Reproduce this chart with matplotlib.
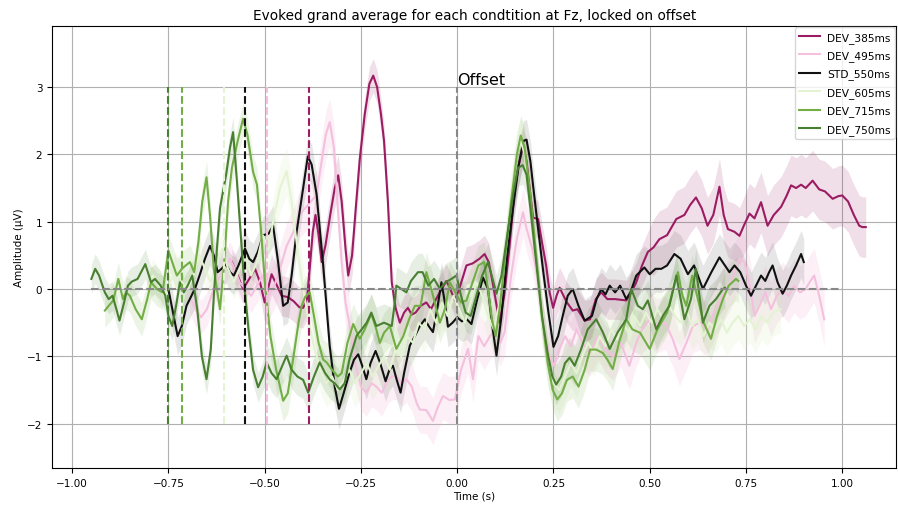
import numpy as np
import matplotlib.pyplot as plt

# =====================================================
#                 DATA
# =====================================================
conds = ["DEV_385ms", "DEV_495ms", "STD_550ms", "DEV_605ms", "DEV_715ms", "DEV_750ms"]
onsets = [-0.385, -0.495, -0.55, -0.605, -0.715, -0.75]   # stimulus onset relative to offset
colors = ["#9b1c62", "#f3c1dd", "#111111", "#e4f3d2", "#72ad45", "#487f30"]

t_385 = [-0.585, -0.57, -0.556, -0.54, -0.525, -0.512, -0.5, -0.482, -0.468, -0.456, -0.44, -0.425,
         -0.41, -0.4, -0.39, -0.383, -0.375, -0.368, -0.36, -0.352, -0.342, -0.33, -0.318, -0.309,
         -0.3, -0.29, -0.283, -0.273, -0.262, -0.253, -0.24, -0.228, -0.218, -0.208, -0.198, -0.19,
         -0.18, -0.17, -0.16, -0.149, -0.138, -0.128, -0.118, -0.108, -0.095, -0.08, -0.068, -0.055,
         -0.04, -0.028, -0.018, -0.006, 0.008, 0.024, 0.04, 0.058, 0.071, 0.082, 0.095, 0.11, 0.122,
         0.136, 0.148, 0.158, 0.171, 0.18, 0.19, 0.197, 0.21, 0.22, 0.231, 0.24, 0.249, 0.258, 0.266,
         0.276, 0.285, 0.3, 0.312, 0.331, 0.345, 0.36, 0.374, 0.39, 0.41, 0.439, 0.452, 0.465, 0.48,
         0.495, 0.51, 0.525, 0.545, 0.569, 0.59, 0.605, 0.62, 0.635, 0.65, 0.665, 0.681, 0.692, 0.703,
         0.72, 0.733, 0.745, 0.759, 0.772, 0.789, 0.806, 0.822, 0.841, 0.855, 0.867, 0.88, 0.893,
         0.905, 0.923, 0.94, 0.955, 0.975, 0.99, 1.0, 1.015, 1.03, 1.044, 1.052, 1.061]
v_385 = [0.40, 0.20, 0.0, 0.15, 0.30, 0.10, -0.20, 0.22, 0.05, -0.10, -0.12, -0.18,
         -0.27, -0.28, -0.15, 0.30, 0.85, 1.10, 0.80, 0.40, 0.65, 1.09, 1.50, 1.69,
         1.30, 0.60, 0.20, 0.50, 1.30, 1.93, 2.60, 3.05, 3.17, 3.00, 2.60, 2.20,
         1.30, 0.10, -0.28, -0.50, -0.35, -0.28, -0.38, -0.35, -0.25, -0.20, -0.30, -0.15,
         0.00, 0.12, 0.00, -0.17, 0.05, 0.35, 0.38, 0.45, 0.52, 0.40, 0.00, -0.50, -0.10,
         0.64, 1.40, 1.79, 2.13, 1.90, 1.40, 1.06, 1.04, 0.70, 0.35, -0.05, -0.28, -0.10, 0.02,
         -0.10, -0.20, -0.32, -0.30, -0.47, -0.45, -0.15, -0.05, -0.15, -0.15, -0.17, -0.05, 0.10, 0.35,
         0.55, 0.62, 0.74, 0.80, 1.04, 1.10, 1.25, 1.36, 1.20, 0.94, 1.10, 1.52, 1.10, 0.89,
         0.85, 0.79, 0.95, 1.12, 1.05, 1.29, 0.94, 1.10, 1.22, 1.38, 1.54, 1.50, 1.55,
         1.50, 1.61, 1.48, 1.45, 1.34, 1.38, 1.39, 1.30, 1.10, 0.94, 0.92, 0.92]

t_495 = [-0.695, -0.68, -0.665, -0.65, -0.635, -0.62, -0.605, -0.59, -0.578, -0.565, -0.55, -0.535,
         -0.52, -0.505, -0.49, -0.475, -0.46, -0.443, -0.425, -0.41, -0.395, -0.38, -0.365, -0.352,
         -0.341, -0.331, -0.32, -0.31, -0.3, -0.29, -0.279, -0.265, -0.25, -0.236, -0.222, -0.21,
         -0.196, -0.18, -0.17, -0.158, -0.145, -0.132, -0.118, -0.105, -0.097, -0.08, -0.063, -0.05,
         -0.037, -0.02, -0.006, 0.01, 0.028, 0.041, 0.055, 0.07, 0.085, 0.1, 0.112, 0.123, 0.14,
         0.155, 0.171, 0.18, 0.195, 0.21, 0.225, 0.24, 0.25, 0.265, 0.28, 0.295, 0.31, 0.325, 0.345,
         0.365, 0.385, 0.405, 0.425, 0.447, 0.465, 0.48, 0.5, 0.52, 0.54, 0.56, 0.577, 0.595, 0.612,
         0.63, 0.65, 0.67, 0.69, 0.71, 0.733, 0.746, 0.76, 0.772, 0.785, 0.8, 0.815, 0.83, 0.845,
         0.86, 0.875, 0.89, 0.905, 0.915, 0.927, 0.94, 0.953]
v_495 = [-0.10, -0.30, -0.42, -0.30, -0.05, 0.15, 0.30, 0.45, 0.30, 0.10, 0.00, -0.10,
         0.05, 0.20, -0.10, 0.05, 0.30, 0.64, 0.85, 1.10, 1.20, 1.30, 1.40, 1.90,
         2.30, 2.48, 2.10, 1.20, 0.40, -0.20, -0.55, -1.10, -1.45, -1.54, -1.40, -1.45,
         -1.54, -1.35, -1.30, -1.29, -1.40, -1.34, -1.45, -1.70, -1.79, -1.80, -1.96, -1.75,
         -1.59, -1.65, -1.64, -1.20, -0.89, -1.34, -0.70, -0.85, -0.70, -0.60, -0.80, -0.64, 0.20,
         0.75, 1.14, 0.90, 0.60, 0.10, -0.60, -1.00, -1.14, -0.90, -0.70, -0.85, -0.60, -0.80, -0.95,
         -0.70, -0.90, -1.00, -0.80, -1.14, -0.80, -0.60, -0.45, -0.55, -0.50, -0.75, -1.04, -0.80, -0.55,
         -0.50, -0.60, -0.30, -0.10, 0.10, 0.45, 0.40, 0.05, -0.40, -0.25, -0.05, -0.30, -0.10, 0.00,
         -0.10, 0.05, -0.05, 0.00, 0.10, 0.20, -0.10, -0.45]

t_550 = [-0.75, -0.738, -0.726, -0.715, -0.703, -0.69, -0.68, -0.668, -0.655, -0.642, -0.632, -0.622,
         -0.612, -0.6, -0.59, -0.58, -0.568, -0.551, -0.54, -0.53, -0.518, -0.504, -0.49, -0.478,
         -0.465, -0.452, -0.44, -0.43, -0.417, -0.4, -0.388, -0.378, -0.365, -0.348, -0.331, -0.318,
         -0.307, -0.295, -0.28, -0.268, -0.257, -0.246, -0.236, -0.225, -0.212, -0.2, -0.186, -0.176,
         -0.167, -0.157, -0.147, -0.138, -0.123, -0.11, -0.097, -0.084, -0.074, -0.063, -0.052, -0.041,
         -0.032, -0.024, -0.012, 0.0, 0.012, 0.025, 0.037, 0.052, 0.067, 0.08, 0.09, 0.102, 0.115,
         0.13, 0.145, 0.16, 0.172, 0.18, 0.19, 0.197, 0.21, 0.223, 0.237, 0.25, 0.262, 0.274, 0.287,
         0.3, 0.315, 0.331, 0.35, 0.362, 0.374, 0.385, 0.396, 0.41, 0.423, 0.439, 0.45, 0.465, 0.486,
         0.5, 0.515, 0.53, 0.545, 0.564, 0.58, 0.599, 0.615, 0.638, 0.66, 0.681, 0.695, 0.707, 0.72,
         0.735, 0.75, 0.763, 0.776, 0.789, 0.8, 0.81, 0.819, 0.832, 0.845, 0.856, 0.867, 0.88, 0.893,
         0.9]
v_550 = [0.00, -0.35, -0.70, -0.55, -0.25, -0.10, 0.02, 0.22, 0.45, 0.64, 0.50, 0.25,
         0.30, 0.37, 0.25, 0.20, 0.35, 0.60, 0.45, 0.40, 0.55, 0.80, 0.82, 0.94,
         0.40, -0.25, -0.20, 0.20, 0.85, 1.50, 1.97, 1.85, 1.40, 0.35, -0.85, -1.45,
         -1.78, -1.55, -1.25, -1.05, -0.97, -1.15, -1.34, -1.10, -0.92, -1.10, -1.37, -1.20,
         -1.14, -1.35, -1.54, -1.25, -0.84, -0.70, -0.55, -0.45, -0.55, -0.64, -0.30, 0.10,
         -0.20, -0.56, -0.50, -0.42, -0.48, -0.45, -0.52, -0.15, 0.17, 0.00, -0.50, -0.99, -0.40,
         0.50, 1.20, 1.85, 2.20, 2.22, 1.90, 1.54, 0.90, 0.28, -0.35, -0.86, -0.70, -0.40, -0.10,
         0.00, -0.25, -0.47, -0.40, -0.15, 0.00, -0.08, 0.05, -0.05, 0.05, -0.15, -0.05, 0.20, 0.32,
         0.22, 0.30, 0.30, 0.35, 0.52, 0.45, 0.22, 0.35, 0.00, 0.25, 0.47, 0.35, 0.25, 0.35,
         0.25, 0.05, -0.10, 0.05, 0.20, 0.12, 0.25, 0.35, 0.10, -0.07, 0.05, 0.20, 0.35, 0.52,
         0.40]

t_605 = [-0.805, -0.79, -0.775, -0.76, -0.745, -0.73, -0.715, -0.7, -0.685, -0.67, -0.655, -0.64,
         -0.625, -0.61, -0.595, -0.58, -0.565, -0.55, -0.535, -0.52, -0.505, -0.49, -0.475, -0.46,
         -0.443, -0.43, -0.415, -0.4, -0.385, -0.37, -0.355, -0.34, -0.325, -0.31, -0.295, -0.28,
         -0.265, -0.25, -0.235, -0.22, -0.205, -0.19, -0.175, -0.16, -0.145, -0.13, -0.115, -0.1,
         -0.085, -0.07, -0.055, -0.04, -0.025, -0.01, 0.005, 0.02, 0.035, 0.05, 0.065, 0.08, 0.095,
         0.11, 0.125, 0.14, 0.155, 0.165, 0.175, 0.19, 0.205, 0.22, 0.235, 0.25, 0.265, 0.28, 0.295,
         0.31, 0.325, 0.34, 0.355, 0.37, 0.385, 0.4, 0.415, 0.43, 0.445, 0.46, 0.475, 0.49, 0.505,
         0.52, 0.535, 0.55, 0.565, 0.58, 0.595, 0.61, 0.625, 0.64, 0.655, 0.67, 0.685, 0.7, 0.715,
         0.73, 0.745, 0.76, 0.775, 0.79, 0.805, 0.82, 0.84]
v_605 = [0.00, 0.20, 0.05, -0.10, 0.10, 0.30, 0.10, 0.00, 0.20, 0.50, 0.30, 0.10,
         0.40, 0.60, 0.30, 0.10, 0.30, 0.50, 0.20, 0.40, 0.80, 0.60, 1.10, 1.50,
         1.75, 1.30, 0.60, 0.00, -0.50, -0.90, -1.20, -1.40, -1.30, -1.50, -1.35, -1.20,
         -1.40, -1.25, -1.10, -1.30, -1.15, -1.00, -1.20, -0.90, -1.00, -0.70, -0.80, -0.50,
         -0.60, -0.30, -0.50, -0.20, -0.40, -0.10, -0.30, -0.50, -0.20, 0.10, -0.10, -0.40, -0.60,
         -0.20, 0.60, 1.40, 2.00, 2.20, 2.00, 1.30, 0.40, -0.50, -1.10, -1.40, -1.50, -1.30, -1.10,
         -1.25, -1.00, -0.80, -0.95, -0.70, -0.85, -0.60, -0.75, -0.50, -0.65, -0.40, -0.55, -0.35, -0.50,
         -0.30, -0.45, -0.25, -0.40, -0.50, -0.30, -0.55, -0.45, -0.70, -0.50, -0.60, -0.45, -0.65, -0.50,
         -0.40, -0.55, -0.45, -0.60, -0.40, -0.50, -0.35, -0.30]

t_715 = [-0.915, -0.905, -0.893, -0.88, -0.868, -0.86, -0.85, -0.835, -0.819, -0.805, -0.795, -0.78,
         -0.765, -0.75, -0.74, -0.728, -0.715, -0.705, -0.694, -0.683, -0.672, -0.662, -0.651, -0.642,
         -0.632, -0.616, -0.605, -0.595, -0.585, -0.57, -0.556, -0.545, -0.53, -0.52, -0.51, -0.498,
         -0.485, -0.47, -0.452, -0.44, -0.425, -0.412, -0.404, -0.395, -0.383, -0.372, -0.36, -0.348,
         -0.339, -0.325, -0.31, -0.3, -0.285, -0.27, -0.253, -0.24, -0.223, -0.21, -0.201, -0.19,
         -0.175, -0.158, -0.14, -0.125, -0.11, -0.095, -0.08, -0.065, -0.045, -0.032, -0.019, -0.005,
         0.01, 0.024, 0.04, 0.055, 0.07, 0.08, 0.09, 0.1, 0.11, 0.125, 0.14, 0.155, 0.165, 0.175,
         0.19, 0.205, 0.22, 0.235, 0.248, 0.26, 0.272, 0.285, 0.3, 0.315, 0.331, 0.345, 0.361, 0.378,
         0.39, 0.404, 0.42, 0.439, 0.455, 0.475, 0.5, 0.52, 0.545, 0.573, 0.585, 0.595, 0.61, 0.625,
         0.64, 0.659, 0.675, 0.69, 0.705, 0.724, 0.73]
v_715 = [-0.32, -0.25, -0.17, 0.15, -0.15, -0.05, -0.10, -0.30, -0.45, -0.15, 0.10, 0.00,
         -0.05, 0.57, 0.40, 0.20, 0.30, 0.35, 0.40, 0.25, 0.70, 1.30, 1.66, 1.10,
         0.30, -0.30, 0.40, 1.30, 1.80, 2.20, 2.53, 2.30, 1.74, 1.55, 0.90, 0.00,
         -0.70, -1.20, -1.66, -1.55, -1.00, -0.50, -0.25, -0.12, -0.05, -0.40, -0.80, -1.05,
         -1.09, -1.20, -1.30, -1.25, -0.80, -0.52, -0.74, -0.60, -0.37, -0.60, -0.80, -0.65,
         -0.55, -0.89, -0.70, -0.45, -0.25, -0.25, 0.25, -0.05, -0.50, -0.30, 0.10, -0.05,
         -0.20, -0.17, 0.10, 0.35, 0.40, 0.00, -0.45, -0.70, -0.30, 0.50, 1.30, 2.00, 2.28, 2.10,
         1.40, 0.50, -0.40, -1.10, -1.50, -1.64, -1.55, -1.35, -1.30, -1.45, -1.20, -0.90, -0.90, -0.95,
         -1.05, -1.19, -0.80, -0.45, -0.60, -0.65, -0.89, -0.60, -0.35, 0.25, -0.10, -0.25, 0.20, -0.15,
         -0.50, -0.74, -0.40, -0.15, 0.05, 0.15, 0.12]

t_750 = [-0.95, -0.94, -0.93, -0.915, -0.905, -0.895, -0.885, -0.877, -0.865, -0.855, -0.845, -0.83,
         -0.81, -0.795, -0.785, -0.77, -0.758, -0.75, -0.74, -0.73, -0.72, -0.71, -0.7, -0.688,
         -0.675, -0.663, -0.651, -0.64, -0.632, -0.624, -0.616, -0.6, -0.59, -0.582, -0.572, -0.562,
         -0.552, -0.542, -0.53, -0.517, -0.505, -0.495, -0.482, -0.469, -0.455, -0.443, -0.43, -0.415,
         -0.4, -0.387, -0.372, -0.357, -0.343, -0.33, -0.318, -0.305, -0.292, -0.28, -0.261, -0.248,
         -0.235, -0.223, -0.21, -0.19, -0.17, -0.162, -0.158, -0.145, -0.132, -0.12, -0.102, -0.09,
         -0.075, -0.06, -0.045, -0.03, -0.015, -0.002, 0.01, 0.022, 0.035, 0.05, 0.065, 0.08, 0.092,
         0.102, 0.115, 0.13, 0.145, 0.158, 0.17, 0.18, 0.19, 0.205, 0.22, 0.235, 0.247, 0.257, 0.27,
         0.28, 0.292, 0.305, 0.322, 0.339, 0.361, 0.378, 0.396, 0.417, 0.439, 0.452, 0.469, 0.482,
         0.495, 0.517, 0.534, 0.551, 0.569, 0.59, 0.607, 0.62, 0.638, 0.655, 0.672, 0.69, 0.695]
v_750 = [0.15, 0.30, 0.20, -0.05, -0.15, -0.10, -0.30, -0.47, -0.20, 0.05, 0.11, 0.15,
         0.37, 0.10, 0.15, 0.05, -0.10, -0.40, -0.55, -0.25, 0.10, -0.05, 0.05, 0.20,
         -0.30, -1.00, -1.34, -0.90, -0.10, 0.60, 1.20, 1.70, 2.10, 2.33, 1.60, 0.80,
         0.00, -0.60, -1.20, -1.46, -1.30, -1.09, -1.25, -1.34, -1.15, -0.99, -1.20, -1.30,
         -1.35, -1.54, -1.30, -1.09, -1.25, -1.35, -1.40, -1.49, -1.40, -1.05, -0.69, -0.60,
         -0.50, -0.35, -0.55, -0.50, -0.55, -0.20, 0.05, 0.00, -0.05, 0.12, 0.25, 0.25,
         0.05, 0.15, 0.00, 0.10, 0.15, 0.20, -0.10, -0.35, -0.40, -0.10, 0.20, 0.40, 0.15,
         -0.07, 0.20, 0.80, 1.40, 1.80, 1.84, 1.70, 1.20, 0.40, -0.40, -0.95, -1.30, -1.42, -1.30,
         -1.10, -1.02, -1.14, -0.89, -0.60, -0.45, -0.64, -0.89, -0.64, -0.45, 0.00, -0.25, -0.30,
         -0.17, -0.60, -0.40, -0.25, 0.20, -0.45, -0.15, 0.30, -0.50, -0.25, -0.15, 0.00, 0.02]

# standard error, one value per 0.25 s bin (bin edges below)
sem_edges = [-0.75, -0.5, -0.25, 0.0, 0.25, 0.5, 0.75, 1.0]
sem_385 = [0.20, 0.20, 0.30, 0.25, 0.28, 0.30, 0.42, 0.45, 0.45]
sem_495 = [0.25, 0.25, 0.35, 0.35, 0.35, 0.35, 0.40, 0.40, 0.40]
sem_550 = [0.25, 0.28, 0.30, 0.30, 0.30, 0.32, 0.35, 0.35, 0.35]
sem_605 = [0.25, 0.25, 0.35, 0.35, 0.35, 0.35, 0.35, 0.35, 0.35]
sem_715 = [0.25, 0.25, 0.30, 0.30, 0.30, 0.32, 0.32, 0.32, 0.32]
sem_750 = [0.22, 0.22, 0.28, 0.28, 0.28, 0.30, 0.30, 0.30, 0.30]

times = [t_385, t_495, t_550, t_605, t_715, t_750]
values = [v_385, v_495, v_550, v_605, v_715, v_750]
sems = [sem_385, sem_495, sem_550, sem_605, sem_715, sem_750]
band_colors = ["#9b1c62", "#f1b3d6", "#777777", "#d8ecc0", "#72ad45", "#487f30"]
band_alpha = [0.14, 0.2, 0.18, 0.2, 0.13, 0.13]

# =====================================================
#                      PLOT
# =====================================================
fig = plt.figure(figsize=(8.98, 5.06), dpi=100)
ax = fig.add_axes([0.058, 0.073, 0.94, 0.874])

for t, v, s, c, a in zip(times, values, sems, band_colors, band_alpha):
    t = np.array(t); v = np.array(v)
    e = np.array(s)[np.digitize(t, sem_edges)]
    ax.fill_between(t, v - e, v + e, color=c, alpha=a, lw=0)

for t, v, c, name in zip(times, values, colors, conds):
    ax.plot(t, v, color=c, lw=1.5, label=name)

# onset markers + offset
for x0, c in zip(onsets, colors):
    ax.vlines(x0, -2, 3, colors=c, linestyles="--", lw=1.5)
ax.vlines(0, -2, 3, colors="#888888", linestyles="--", lw=1.5)
ax.hlines(0, -0.95, 1.0, colors="#888888", linestyles="--", lw=1.5)
ax.text(0.0, 3.0, "Offset", fontsize=11.5, ha="left", va="bottom")

ax.set_xlim(-1.052, 1.14)
ax.set_ylim(-2.66, 3.91)
ax.set_xticks([-1.0, -0.75, -0.5, -0.25, 0.0, 0.25, 0.5, 0.75, 1.0])
ax.set_yticks([-2, -1, 0, 1, 2, 3])
ax.tick_params(labelsize=7.5)
ax.grid(color="#b0b0b0", lw=0.8)
ax.set_axisbelow(True)
ax.set_xlabel("Time (s)", fontsize=7.5, labelpad=2)
ax.set_ylabel("Amplitude (μV)", fontsize=7.5, labelpad=2)
ax.set_title("Evoked grand average for each condtition at Fz, locked on offset", fontsize=9.8, pad=5)
ax.legend(loc="upper right", fontsize=7.7, handlelength=2.0, handletextpad=0.6,
          borderaxespad=0.15, labelspacing=0.7)

fig.savefig("out.png", dpi=100)
